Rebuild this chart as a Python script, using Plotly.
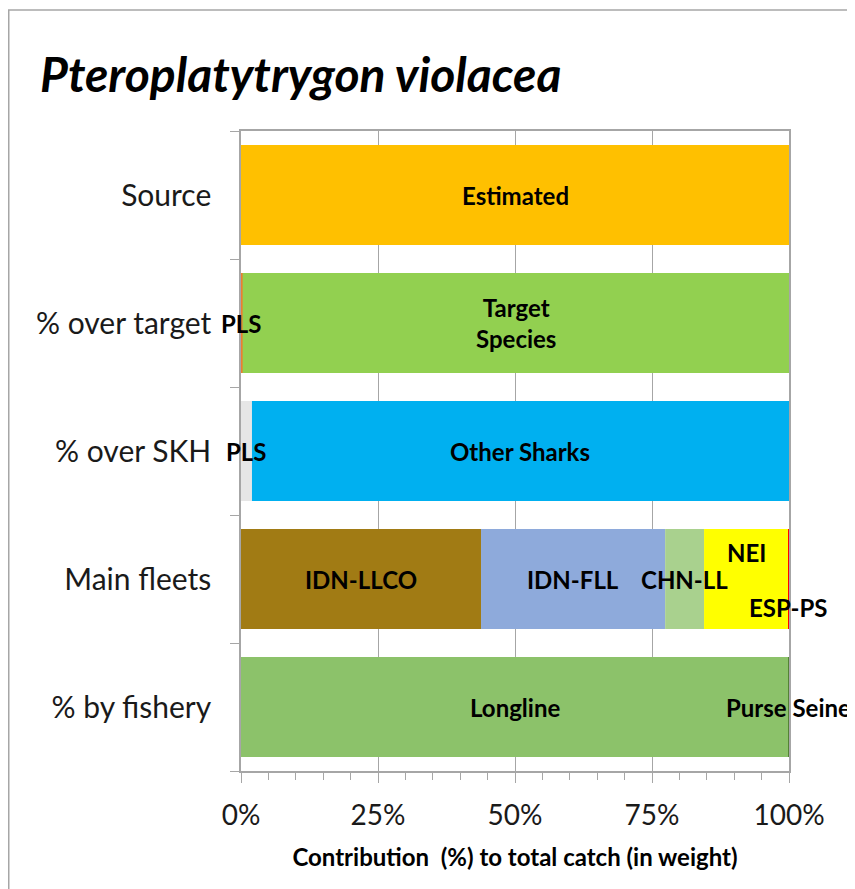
import plotly.graph_objects as go

# rows, top to bottom
categories = ["Source", "% over target", "% over SKH", "Main fleets", "% by fishery"]

source_labels = ["Estimated"]
source_values = [100.0]

target_labels = ["PLS", "Target<br>Species"]
target_values = [0.3, 99.7]

skh_labels = ["PLS", "Other Sharks"]
skh_values = [2.0, 98.0]

fleet_labels = ["IDN-LLCO", "IDN-FLL", "CHN-LL", "NEI", "ESP-PS"]
fleet_values = [43.8, 33.6, 7.1, 15.4, 0.1]

fishery_labels = ["Longline", "Purse Seine"]
fishery_values = [99.9, 0.1]

rows = [
    ("Source", source_labels, source_values, ["#FFC000"]),
    ("% over target", target_labels, target_values, ["#ED7D31", "#92D050"]),
    ("% over SKH", skh_labels, skh_values, ["#E6E6E6", "#00B0F0"]),
    ("Main fleets", fleet_labels, fleet_values,
     ["#A17B14", "#8EAADB", "#A9D18E", "#FFFF00", "#FF0000"]),
    ("% by fishery", fishery_labels, fishery_values, ["#8CC26A", "#548235"]),
]

# label nudges (NEI sits above, ESP-PS below centre, like the original)
label_shift = {"NEI": 27, "ESP-PS": -28}

FONT = "Lato, 'Open Sans', sans-serif"

fig = go.Figure()
annotations = []
for cat, labels, values, colors in rows:
    base = 0.0
    for lab, val, col in zip(labels, values, colors):
        fig.add_trace(go.Bar(
            y=[cat], x=[val], base=[base], orientation="h",
            marker=dict(color=col, line=dict(width=0)),
            name=lab.replace("<br>", " "), showlegend=False,
            hoverinfo="name+x",
        ))
        annotations.append(dict(
            x=base + val / 2, y=cat, xref="x", yref="y",
            text="<b>" + lab + "</b>", showarrow=False,
            yshift=label_shift.get(lab, 0),
            font=dict(family=FONT, size=24, color="#000000"),
        ))
        base += val

# outer chart border, like the Excel chart area
fig.add_shape(type="rect", xref="paper", yref="paper",
              x0=-0.4238, x1=1.2, y0=-0.3, y1=1.189,
              line=dict(color="#A6A6A6", width=1.5), layer="below")

fig.update_layout(
    width=847, height=881,
    margin=dict(l=233, r=66, t=123, b=118),
    barmode="overlay", bargap=0.22,
    plot_bgcolor="white", paper_bgcolor="white",
    annotations=annotations,
    font=dict(family=FONT, color="#1a1a1a"),
    title=dict(
        text="<b><i>Pteroplatytrygon violacea</i></b>",
        xref="container", yref="container", x=32 / 847, y=1 - 67 / 881,
        xanchor="left", yanchor="middle",
        font=dict(family=FONT, size=48, color="#000000"),
    ),
)
fig.update_xaxes(
    range=[0, 100], tick0=0, dtick=25, ticksuffix="%",
    showgrid=True, gridcolor="#A6A6A6", gridwidth=1,
    showline=True, linecolor="#A6A6A6", linewidth=1.5, mirror=True,
    ticks="outside", ticklen=10, tickcolor="#A6A6A6",
    minor=dict(dtick=5, ticks="outside", ticklen=7, tickcolor="#A6A6A6", showgrid=False),
    tickfont=dict(size=28, color="#1a1a1a"), ticklabelstandoff=9,
    title=dict(text="<b>Contribution  (%) to total catch (in weight)</b>",
               font=dict(size=24, color="#000000"), standoff=19),
    zeroline=False,
)
fig.update_yaxes(
    categoryorder="array", categoryarray=categories[::-1],
    showline=True, linecolor="#A6A6A6", linewidth=1.5, mirror=True,
    ticks="outside", tickson="boundaries", ticklen=9, tickcolor="#A6A6A6",
    tickfont=dict(size=30, color="#1a1a1a"), ticklabelstandoff=22,
    showgrid=False,
)

fig.write_html("out.html")
